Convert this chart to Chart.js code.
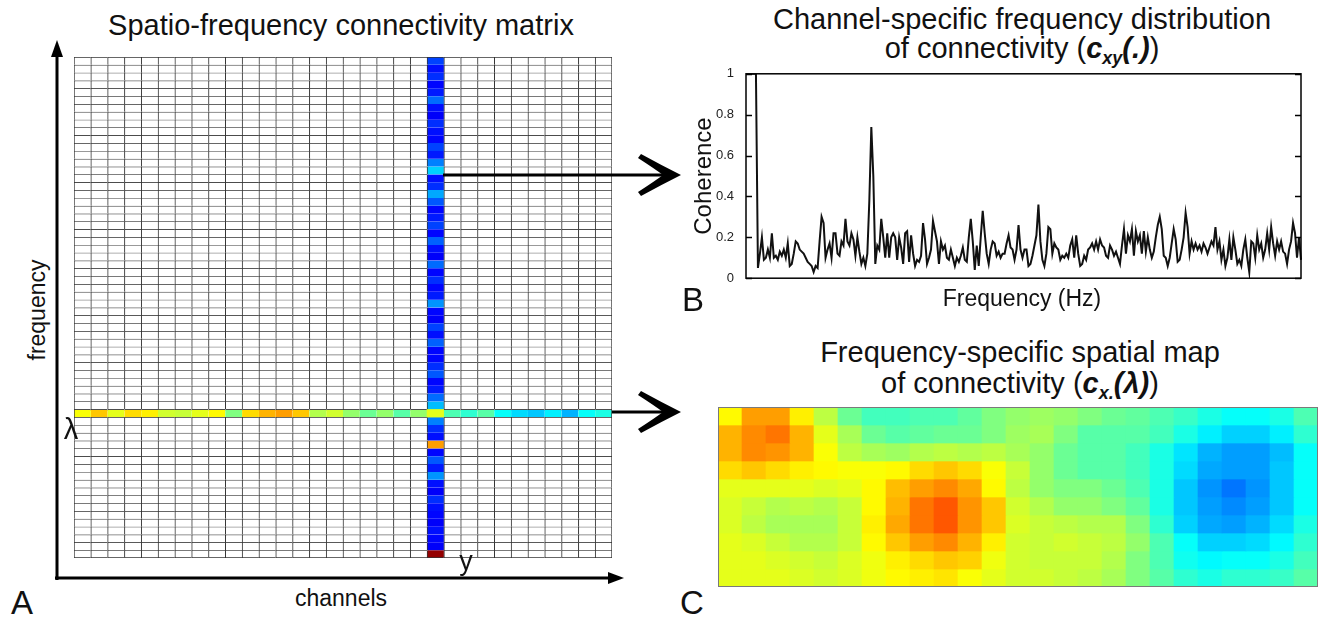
<!DOCTYPE html>
<html lang="en">
<head>
    <meta charset="UTF-8">
    <title>Spatio-frequency connectivity</title>
    <script src="https://cdn.jsdelivr.net/npm/chart.js"></script>
    <style>
        body {
            margin: 0;
            width: 1318px;
            height: 617px;
            position: relative;
            overflow: hidden;
            background: #fff;
            font-family: 'Liberation Sans', Arial, Helvetica, sans-serif;
            color: #111;
        }
        canvas, svg {
            position: absolute;
        }
        .t {
            position: absolute;
            white-space: nowrap;
            transform: translateX(-50%);
            text-align: center;
        }
        .c {
            position: absolute;
            white-space: nowrap;
            transform: translate(-50%, -50%);
        }
        .rot {
            transform: translate(-50%, -50%) rotate(-90deg);
        }
        .bi { font-weight: bold; font-style: italic; }
        sub { font-size: 0.62em; vertical-align: -0.35em; line-height: 0; }
    </style>
</head>
<body>

    <!-- panel A -->
    <div class="t" style="left:341px; top:10px; font-size:29px; line-height:30px;">Spatio-frequency connectivity matrix</div>
    <canvas id="matrixChart" width="538" height="501" style="left:74px; top:57px;"></canvas>
    <div class="c rot" style="left:37px; top:310px; font-size:23px;">frequency</div>
    <div class="c" style="left:341px; top:598px; font-size:23px;">channels</div>
    <div class="c" style="left:71px; top:429px; font-size:29px;">&lambda;</div>
    <div class="c" style="left:466px; top:561px; font-size:27px;">y</div>
    <div class="c" style="left:22px; top:603px; font-size:33px;">A</div>

    <!-- panel B -->
    <div class="t" style="left:1022px; top:5px; font-size:29px; line-height:29px;">Channel-specific frequency distribution<br>of connectivity (<span class="bi">c<sub>xy</sub>(.)</span>)</div>
    <canvas id="coherenceChart" width="600" height="228" style="left:706px; top:62px;"></canvas>
    <div class="c rot" style="left:703px; top:176px; font-size:24px;">Coherence</div>
    <div class="c" style="left:1022px; top:298px; font-size:23px;">Frequency (Hz)</div>
    <div class="c" style="left:693px; top:300px; font-size:33px;">B</div>

    <!-- panel C -->
    <div class="t" style="left:1020px; top:337px; font-size:29px; line-height:31px;">Frequency-specific spatial map<br>of connectivity (<span class="bi">c<sub>x.</sub>(&lambda;)</span>)</div>
    <canvas id="mapChart" width="600" height="180" style="left:718px; top:407px;"></canvas>
    <div class="c" style="left:692px; top:603px; font-size:33px;">C</div>

    <!-- axis arrows and pointers -->
    <svg width="1318" height="617" style="left:0; top:0;">
        <g stroke="#000" stroke-width="3" fill="none">
            <line x1="57" y1="580" x2="57" y2="52"/>
            <line x1="55" y1="578" x2="612" y2="578"/>
            <line x1="443" y1="175" x2="672" y2="175"/>
            <line x1="612" y1="412" x2="672" y2="412"/>
        </g>
        <g fill="#000">
            <polygon points="57,40 51,57 63,57"/>
            <polygon points="624,578 608,572 608,584"/>
            <path d="M681,175 Q661,165 641,154 L638,158 Q655,169 663,175 Q655,181 638,192 L641,196 Q661,185 681,175 Z"/>
            <path d="M681,412 Q661,402 641,391 L638,395 Q655,406 663,412 Q655,418 638,429 L641,433 Q661,422 681,412 Z"/>
        </g>
    </svg>

    <script>
        // ---- panel A: channels x frequency grid ----
        const nChannels = 32;
        const nFreqs = 64;
        const selChannel = 21;   // column "y"
        const selFreq = 45;      // row lambda (counted from the top)

        // coherence of the selected channel pair, one value per frequency row (top -> bottom)
        const channelColumn = [
            0.19, 0.14, 0.17, 0.13, 0.15, 0.23, 0.14, 0.12, 0.17, 0.14,
            0.13, 0.19, 0.15, 0.25, 0.33, 0.14, 0.17, 0.29, 0.21, 0.13,
            0.15, 0.19, 0.13, 0.22, 0.14, 0.12, 0.23, 0.13, 0.17, 0.13,
            0.15, 0.27, 0.13, 0.12, 0.19, 0.14, 0.22, 0.13, 0.13, 0.17,
            0.21, 0.13, 0.15, 0.23, 0.31, 0.60, 0.25, 0.17, 0.14, 0.72,
            0.13, 0.21, 0.15, 0.27, 0.14, 0.12, 0.17, 0.14, 0.13, 0.12,
            0.14, 0.13, 0.12, 0.98
        ];
        // coherence at frequency lambda, one value per channel
        const lambdaRow = [
            0.62, 0.68, 0.60, 0.66, 0.64, 0.58, 0.57, 0.60, 0.63, 0.50,
            0.66, 0.70, 0.72, 0.68, 0.55, 0.58, 0.52, 0.48, 0.52, 0.46,
            0.52, 0.60, 0.45, 0.42, 0.46, 0.38, 0.34, 0.32, 0.36, 0.30,
            0.38, 0.40
        ];

        // ---- panel B: coherence spectrum ----
        const coherence = [
            1, 1, 1, 1, 1, 1, 0.05, 0.12, 0.20, 0.09,
            0.10, 0.14, 0.10, 0.22, 0.10, 0.11, 0.09, 0.13, 0.11, 0.14,
            0.10, 0.17, 0.06, 0.07, 0.12, 0.18, 0.17, 0.14, 0.13, 0.12,
            0.10, 0.08, 0.07, 0.06, 0.03, 0.06, 0.05, 0.18, 0.30, 0.27,
            0.10, 0.14, 0.17, 0.10, 0.22, 0.22, 0.12, 0.11, 0.18, 0.16,
            0.29, 0.18, 0.16, 0.22, 0.19, 0.11, 0.20, 0.13, 0.07, 0.10,
            0.06, 0.12, 0.38, 0.74, 0.50, 0.07, 0.16, 0.14, 0.29, 0.20,
            0.10, 0.22, 0.10, 0.20, 0.22, 0.20, 0.09, 0.20, 0.15, 0.07,
            0.22, 0.23, 0.08, 0.21, 0.12, 0.06, 0.09, 0.08, 0.11, 0.27,
            0.19, 0.07, 0.10, 0.14, 0.28, 0.23, 0.18, 0.07, 0.18, 0.14,
            0.16, 0.10, 0.09, 0.14, 0.10, 0.06, 0.10, 0.08, 0.11, 0.15,
            0.09, 0.08, 0.20, 0.29, 0.18, 0.04, 0.16, 0.06, 0.20, 0.33,
            0.22, 0.12, 0.07, 0.14, 0.18, 0.17, 0.11, 0.13, 0.10, 0.12,
            0.12, 0.17, 0.21, 0.15, 0.14, 0.09, 0.14, 0.26, 0.14, 0.10,
            0.14, 0.14, 0.06,
            0.07, 0.11, 0.16, 0.21, 0.36, 0.18, 0.09, 0.06, 0.12, 0.25,
            0.24, 0.12, 0.17, 0.15, 0.14, 0.09, 0.11, 0.10, 0.12, 0.10,
            0.16, 0.19, 0.10, 0.21, 0.12, 0.06, 0.07, 0.11, 0.09, 0.14,
            0.15, 0.17, 0.14, 0.18, 0.14, 0.19, 0.16, 0.15, 0.11, 0.10,
            0.16, 0.14, 0.11, 0.13, 0.10, 0.07, 0.16, 0.24, 0.12, 0.21,
            0.18, 0.24, 0.11, 0.23, 0.18, 0.21, 0.12, 0.23, 0.13, 0.20,
            0.14, 0.10, 0.13, 0.20, 0.26, 0.30, 0.24, 0.11, 0.10, 0.06,
            0.10, 0.17, 0.24, 0.19, 0.08, 0.09, 0.14, 0.20, 0.32, 0.25,
            0.12, 0.18, 0.14, 0.17, 0.14, 0.16, 0.13, 0.17, 0.15, 0.12,
            0.15, 0.18, 0.16, 0.25, 0.14, 0.18, 0.09, 0.14, 0.06, 0.10,
            0.19, 0.09, 0.20, 0.14, 0.07, 0.09, 0.06, 0.14, 0.19, 0.10,
            0.03, 0.18, 0.17, 0.10, 0.21, 0.14, 0.17, 0.10, 0.14, 0.22,
            0.14, 0.25, 0.17, 0.11, 0.18, 0.14, 0.18, 0.13, 0.12, 0.07,
            0.14, 0.18, 0.27, 0.22, 0.10, 0.20, 0.09
        ];
        const yTicks = [0, 0.2, 0.4, 0.6, 0.8, 1];

        // ---- panel C: spatial map at lambda (rows top -> bottom, 25 columns) ----
        const spatialMap = [
            [0.63, 0.72, 0.72, 0.64, 0.56, 0.48, 0.44, 0.44, 0.45, 0.45, 0.47, 0.50, 0.52, 0.53, 0.52, 0.50, 0.48, 0.47, 0.45, 0.43, 0.40, 0.38, 0.38, 0.40, 0.45],
            [0.70, 0.74, 0.76, 0.70, 0.60, 0.54, 0.48, 0.46, 0.47, 0.48, 0.48, 0.50, 0.53, 0.54, 0.50, 0.46, 0.46, 0.46, 0.44, 0.40, 0.36, 0.33, 0.33, 0.36, 0.42],
            [0.70, 0.74, 0.73, 0.70, 0.62, 0.56, 0.54, 0.53, 0.55, 0.56, 0.55, 0.56, 0.54, 0.52, 0.48, 0.46, 0.46, 0.44, 0.40, 0.35, 0.30, 0.28, 0.28, 0.31, 0.38],
            [0.66, 0.68, 0.66, 0.64, 0.63, 0.62, 0.62, 0.63, 0.66, 0.68, 0.66, 0.62, 0.57, 0.52, 0.48, 0.46, 0.46, 0.44, 0.40, 0.34, 0.29, 0.28, 0.28, 0.32, 0.38],
            [0.60, 0.60, 0.60, 0.60, 0.59, 0.60, 0.63, 0.69, 0.72, 0.74, 0.71, 0.63, 0.56, 0.52, 0.50, 0.50, 0.48, 0.45, 0.40, 0.32, 0.27, 0.24, 0.27, 0.32, 0.38],
            [0.59, 0.57, 0.55, 0.56, 0.55, 0.57, 0.63, 0.70, 0.76, 0.79, 0.73, 0.68, 0.58, 0.55, 0.52, 0.52, 0.50, 0.47, 0.40, 0.32, 0.28, 0.26, 0.28, 0.32, 0.38],
            [0.59, 0.56, 0.54, 0.54, 0.54, 0.57, 0.64, 0.71, 0.76, 0.79, 0.73, 0.68, 0.59, 0.57, 0.56, 0.55, 0.55, 0.50, 0.42, 0.33, 0.29, 0.28, 0.30, 0.34, 0.40],
            [0.60, 0.59, 0.57, 0.55, 0.55, 0.57, 0.63, 0.68, 0.72, 0.74, 0.70, 0.64, 0.58, 0.57, 0.58, 0.57, 0.56, 0.52, 0.45, 0.38, 0.33, 0.33, 0.34, 0.37, 0.42],
            [0.60, 0.60, 0.59, 0.58, 0.57, 0.59, 0.61, 0.64, 0.66, 0.68, 0.67, 0.61, 0.58, 0.57, 0.57, 0.57, 0.55, 0.50, 0.45, 0.39, 0.37, 0.38, 0.38, 0.40, 0.44],
            [0.60, 0.60, 0.60, 0.59, 0.58, 0.59, 0.61, 0.63, 0.64, 0.65, 0.62, 0.60, 0.58, 0.58, 0.57, 0.56, 0.54, 0.50, 0.46, 0.42, 0.40, 0.42, 0.42, 0.43, 0.46]
        ];

        // MATLAB style "jet" colour map
        function jet(v) {
            const clamp = x => Math.max(0, Math.min(1, x));
            const r = clamp(1.5 - Math.abs(4 * v - 3));
            const g = clamp(1.5 - Math.abs(4 * v - 2));
            const b = clamp(1.5 - Math.abs(4 * v - 1));
            return `rgb(${Math.round(r * 255)}, ${Math.round(g * 255)}, ${Math.round(b * 255)})`;
        }

        // box around the plot area, with optional inward ticks (left and right)
        const framePlugin = {
            id: 'frame',
            afterDatasetsDraw(chart, args, opts) {
                const { ctx, chartArea: a } = chart;
                ctx.save();
                ctx.strokeStyle = opts.color || '#000';
                ctx.lineWidth = opts.width || 1;
                ctx.strokeRect(a.left, a.top, a.right - a.left, a.bottom - a.top);
                if (opts.ticks) {
                    const y = chart.scales.y;
                    y.ticks.forEach(t => {
                        const py = Math.round(y.getPixelForValue(t.value)) + 0.5;
                        ctx.beginPath();
                        ctx.moveTo(a.left, py);
                        ctx.lineTo(a.left + 6, py);
                        ctx.moveTo(a.right, py);
                        ctx.lineTo(a.right - 6, py);
                        ctx.stroke();
                    });
                }
                ctx.restore();
            }
        };

        const baseOpts = {
            responsive: false,
            animation: false,
            events: [],
            plugins: { legend: { display: false }, tooltip: { enabled: false } }
        };

        // Panel A chart
        const channelLabels = Array.from({ length: nChannels }, (_, i) => i + 1);
        const matrixSets = [];
        for (let r = 0; r < nFreqs; r++) {
            matrixSets.push({
                data: Array(nChannels).fill(1),
                backgroundColor: channelLabels.map((_, c) =>
                    c === selChannel ? jet(channelColumn[r]) : (r === selFreq ? jet(lambdaRow[c]) : '#fff')),
                borderColor: '#333',
                borderSkipped: false,
                borderWidth: ctx => {
                    const row = ctx.datasetIndex, col = ctx.dataIndex;
                    const inCol = col === selChannel, inRow = row === selFreq;
                    return {
                        top: (inCol && row > 0) ? 0 : 1,
                        left: (inRow && col > 0) ? 0 : 1,
                        right: col === nChannels - 1 ? 1 : 0,
                        bottom: row === nFreqs - 1 ? 1 : 0
                    };
                },
                barPercentage: 1,
                categoryPercentage: 1
            });
        }
        new Chart(document.getElementById('matrixChart'), {
            type: 'bar',
            data: { labels: channelLabels, datasets: matrixSets },
            options: {
                ...baseOpts,
                layout: { padding: 0 },
                scales: {
                    x: { stacked: true, display: false },
                    y: { stacked: true, display: false, min: 0, max: nFreqs, reverse: true }
                }
            }
        });

        // Panel B chart
        new Chart(document.getElementById('coherenceChart'), {
            type: 'line',
            data: {
                labels: coherence.map((_, i) => i),
                datasets: [{
                    data: coherence,
                    borderColor: '#111',
                    borderWidth: 2,
                    pointRadius: 0,
                    tension: 0
                }]
            },
            options: {
                ...baseOpts,
                layout: { padding: { top: 10, right: 5, bottom: 10, left: 0 } },
                plugins: { ...baseOpts.plugins, frame: { color: '#000', width: 1.5, ticks: true } },
                scales: {
                    x: { display: false, offset: false },
                    y: {
                        min: 0,
                        max: 1,
                        afterBuildTicks: s => { s.ticks = yTicks.map(v => ({ value: v })); },
                        afterFit: s => { s.width = 40; },
                        grid: { display: false },
                        border: { display: false },
                        ticks: {
                            padding: 4,
                            color: '#222',
                            font: { family: "'Liberation Sans', Arial, sans-serif", size: 13 },
                            callback: v => String(Math.round(v * 10) / 10)
                        }
                    }
                }
            },
            plugins: [framePlugin]
        });

        // Panel C chart
        const mapLabels = spatialMap[0].map((_, i) => i + 1);
        new Chart(document.getElementById('mapChart'), {
            type: 'bar',
            data: {
                labels: mapLabels,
                datasets: spatialMap.map(row => ({
                    data: row.map(() => 1),
                    backgroundColor: row.map(jet),
                    borderWidth: 0,
                    barPercentage: 1,
                    categoryPercentage: 1
                }))
            },
            options: {
                ...baseOpts,
                layout: { padding: 0 },
                plugins: { ...baseOpts.plugins, frame: { color: '#7a7a7a', width: 2 } },
                scales: {
                    x: { stacked: true, display: false },
                    y: { stacked: true, display: false, min: 0, max: spatialMap.length, reverse: true }
                }
            },
            plugins: [framePlugin]
        });
    </script>

</body>
</html>
